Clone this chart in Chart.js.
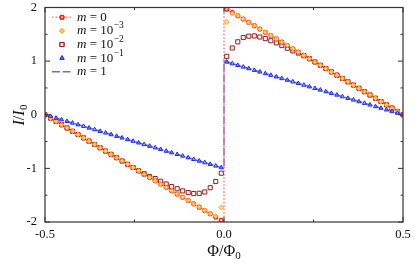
<!DOCTYPE html>
<html><head><meta charset="utf-8">
<script src="https://cdn.jsdelivr.net/npm/chart.js@4/dist/chart.umd.min.js"></script>
<style>html,body{margin:0;padding:0;background:#fff}canvas{display:block}</style>
</head><body>
<canvas id="c" width="415" height="265"></canvas>
<script>
// Flux grid (Φ/Φ0)
const phi = [-0.5,-0.4846,-0.4692,-0.4538,-0.4385,-0.4231,-0.4077,-0.3923,-0.3769,-0.3615,-0.3462,-0.3308,-0.3154,-0.3,-0.2846,-0.2692,-0.2538,-0.2385,-0.2231,-0.2077,-0.1923,-0.1769,-0.1615,-0.1462,-0.1308,-0.1154,-0.1,-0.0846,-0.0692,-0.0538,-0.0385,-0.0231,-0.0077,
 0.0077,0.0231,0.0385,0.0538,0.0692,0.0846,0.1,0.1154,0.1308,0.1462,0.1615,0.1769,0.1923,0.2077,0.2231,0.2385,0.2538,0.2692,0.2846,0.3,0.3154,0.3308,0.3462,0.3615,0.3769,0.3923,0.4077,0.4231,0.4385,0.4538,0.4692,0.4846,0.5];
// m = 0 (markers)
const m0 = [0,-0.062,-0.123,-0.185,-0.246,-0.308,-0.369,-0.431,-0.492,-0.554,-0.615,-0.677,-0.738,-0.8,-0.862,-0.923,-0.985,-1.046,-1.108,-1.169,-1.231,-1.292,-1.354,-1.415,-1.477,-1.538,-1.6,-1.662,-1.723,-1.785,-1.846,-1.908,-1.969,
 1.969,1.908,1.846,1.785,1.723,1.662,1.6,1.538,1.477,1.415,1.354,1.292,1.231,1.169,1.108,1.046,0.985,0.923,0.862,0.8,0.738,0.677,0.615,0.554,0.492,0.431,0.369,0.308,0.246,0.185,0.123,0.062,0];
// m = 1e-3
const m3 = [0,-0.062,-0.123,-0.185,-0.246,-0.308,-0.369,-0.431,-0.492,-0.554,-0.615,-0.677,-0.738,-0.8,-0.862,-0.923,-0.985,-1.046,-1.108,-1.169,-1.231,-1.292,-1.354,-1.415,-1.477,-1.538,-1.6,-1.662,-1.723,-1.785,-1.846,-1.89,-1.73,
 1.73,1.89,1.846,1.785,1.723,1.662,1.6,1.538,1.477,1.415,1.354,1.292,1.231,1.169,1.108,1.046,0.985,0.923,0.862,0.8,0.738,0.677,0.615,0.554,0.492,0.431,0.369,0.308,0.246,0.185,0.123,0.062,0];
// m = 1e-2
const m2 = [0,-0.062,-0.123,-0.185,-0.246,-0.308,-0.369,-0.431,-0.492,-0.554,-0.615,-0.677,-0.738,-0.8,-0.862,-0.923,-0.985,-1.045,-1.10,-1.15,-1.19,-1.24,-1.29,-1.34,-1.38,-1.42,-1.45,-1.47,-1.465,-1.44,-1.36,-1.245,-1.09,
 1.09,1.245,1.36,1.44,1.465,1.47,1.45,1.42,1.38,1.34,1.29,1.24,1.19,1.15,1.10,1.045,0.985,0.923,0.862,0.8,0.738,0.677,0.615,0.554,0.492,0.431,0.369,0.308,0.246,0.185,0.123,0.062,0];
// m = 1e-1
const m1 = [0,-0.031,-0.062,-0.092,-0.123,-0.154,-0.185,-0.215,-0.246,-0.277,-0.308,-0.338,-0.369,-0.4,-0.431,-0.462,-0.492,-0.523,-0.554,-0.585,-0.615,-0.646,-0.677,-0.708,-0.738,-0.769,-0.8,-0.831,-0.862,-0.892,-0.923,-0.954,-0.985,
 0.985,0.954,0.923,0.892,0.862,0.831,0.8,0.769,0.738,0.708,0.677,0.646,0.615,0.585,0.554,0.523,0.492,0.462,0.431,0.4,0.369,0.338,0.308,0.277,0.246,0.215,0.185,0.154,0.123,0.092,0.062,0.031,0];
// continuous curves
const sawX = [-0.5, 0, 0, 0.5];
const sawY = [0, -2, 2, 0];
const unitX = [-0.5, 0, 0, 0.5];
const unitY = [0, -1, 1, 0];
// ticks
const xTickLabels = [-0.5, 0.0, 0.5];
const xMinorTicks = [-0.25, 0.25];
const yTickLabels = [-2, -1, 0, 1, 2];
const yMinorTicks = [-1.5, -0.5, 0.5, 1.5];
// legend
const legendBase = ['0', '10', '10', '10', '1'];
const legendExp = ['', '\u22123', '\u22122', '\u22121', ''];

const pts = (xs, ys) => xs.map((x, i) => ({x, y: ys[i]}));

const sM1 = {label:'m=1', data: pts(unitX, unitY), showLine:true, borderColor:'#7272c2', borderWidth:1.6, borderDash:[8,2.5], pointRadius:0, order:10};
const sM0line = {label:'m=0 line', data: pts(sawX, sawY), showLine:true, borderColor:'#ff8080', borderWidth:1.6, borderDash:[1.5,2], pointRadius:0, order:9};
const sM2 = {label:'m=1e-2', data: pts(phi, m2), showLine:false, pointStyle:'rect', pointRadius:2.9, pointBorderWidth:1, borderColor:'#8e2222', backgroundColor:'rgba(255,235,230,0.5)', order:8};
const sM0 = {label:'m=0', data: pts(phi, m0), showLine:false, pointStyle:'circle', pointRadius:2.0, pointBorderWidth:1.1, borderColor:'#f01a1a', backgroundColor:'rgba(255,140,120,0.6)', order:7};
const sM3 = {label:'m=1e-3', data: pts(phi, m3), showLine:false, pointStyle:'rectRot', pointRadius:2.4, pointBorderWidth:1, borderColor:'#ffa21e', backgroundColor:'rgba(255,215,110,0.8)', order:6};
const sM1e1 = {label:'m=1e-1', data: pts(phi, m1), showLine:false, pointStyle:'triangle', pointRadius:2.4, pointBorderWidth:1, borderColor:'#1a2ef0', backgroundColor:'rgba(120,130,255,0.6)', order:5};

const legendEntries = [
  {line: sM0line, marker: sM0},
  {marker: sM3},
  {marker: sM2},
  {marker: sM1e1},
  {line: sM1}
];

const SERIF = '"Liberation Serif", "DejaVu Serif", serif';

function drawMarker(ctx, ds, x, y) {
  ctx.save();
  ctx.strokeStyle = ds.borderColor;
  ctx.fillStyle = ds.backgroundColor;
  ctx.lineWidth = ds.pointBorderWidth;
  Chart.helpers.drawPoint(ctx, {pointStyle: ds.pointStyle, radius: ds.pointRadius, borderWidth: ds.pointBorderWidth, rotation: 0}, x, y);
  ctx.fill();
  if (ds.pointBorderWidth > 0) ctx.stroke();
  ctx.restore();
}

const framePlugin = {
  id: 'frame',
  afterDraw(chart) {
    const {ctx, chartArea: a, scales: {x, y}} = chart;
    ctx.save();
    ctx.strokeStyle = '#333';
    ctx.lineWidth = 1.2;
    ctx.strokeRect(a.left, a.top, a.right - a.left, a.bottom - a.top);
    ctx.lineWidth = 1;
    ctx.beginPath();
    const tx = (v, len) => { const p = x.getPixelForValue(v); ctx.moveTo(p, a.bottom); ctx.lineTo(p, a.bottom - len); ctx.moveTo(p, a.top); ctx.lineTo(p, a.top + len); };
    const ty = (v, len) => { const p = y.getPixelForValue(v); ctx.moveTo(a.left, p); ctx.lineTo(a.left + len, p); ctx.moveTo(a.right, p); ctx.lineTo(a.right - len, p); };
    xTickLabels.forEach(v => tx(v, 5));
    xMinorTicks.forEach(v => tx(v, 2.5));
    yTickLabels.forEach(v => ty(v, 5));
    yMinorTicks.forEach(v => ty(v, 2.5));
    ctx.stroke();

    // legend
    const lx = 52, lx2 = 72, mx = 62, tx0 = 77;
    legendEntries.forEach((e, i) => {
      const yy = 17.3 + i * 13.6;
      if (e.line) {
        ctx.save();
        ctx.strokeStyle = e.line.borderColor;
        ctx.lineWidth = e.line.borderWidth;
        ctx.setLineDash(e.line.borderDash);
        ctx.beginPath(); ctx.moveTo(lx, yy); ctx.lineTo(lx2, yy); ctx.stroke();
        ctx.restore();
      }
      if (e.marker) drawMarker(ctx, e.marker, mx, yy);
      ctx.fillStyle = '#111';
      ctx.textBaseline = 'middle';
      ctx.textAlign = 'left';
      let cx = tx0;
      ctx.font = 'italic 13px ' + SERIF;
      ctx.fillText('m', cx, yy); cx += ctx.measureText('m').width;
      ctx.font = '13px ' + SERIF;
      const mid = ' = ' + legendBase[i];
      ctx.fillText(mid, cx, yy); cx += ctx.measureText(mid).width;
      if (legendExp[i]) {
        ctx.font = '9.5px ' + SERIF;
        ctx.fillText(legendExp[i], cx + 0.5, yy - 5);
      }
    });

    // axis titles
    ctx.fillStyle = '#111';
    ctx.textBaseline = 'alphabetic';
    ctx.textAlign = 'left';
    ctx.font = '16px ' + SERIF;
    const xt = '\u03A6/\u03A6';
    const w1 = ctx.measureText(xt).width;
    ctx.font = '11px ' + SERIF;
    const w2 = ctx.measureText('0').width;
    const cxm = (a.left + a.right) / 2;
    const sx = cxm - (w1 + w2) / 2;
    ctx.font = '16px ' + SERIF;
    ctx.fillText(xt, sx, 256);
    ctx.font = '11px ' + SERIF;
    ctx.fillText('0', sx + w1, 259);

    ctx.save();
    ctx.translate(24, (a.top + a.bottom) / 2);
    ctx.rotate(-Math.PI / 2);
    ctx.font = 'italic 16px ' + SERIF;
    const wi = ctx.measureText('I').width;
    ctx.font = '16px ' + SERIF;
    const ws = ctx.measureText('/').width;
    ctx.font = '11px ' + SERIF;
    const w0 = ctx.measureText('0').width;
    let px = -(wi * 2 + ws + w0 + 1) / 2;
    ctx.font = 'italic 16px ' + SERIF;
    ctx.fillText('I', px, 0); px += wi;
    ctx.font = '16px ' + SERIF;
    ctx.fillText('/', px, 0); px += ws;
    ctx.font = 'italic 16px ' + SERIF;
    ctx.fillText('I', px, 0); px += wi + 0.5;
    ctx.font = '11px ' + SERIF;
    ctx.fillText('0', px, 3);
    ctx.restore();
    ctx.restore();
  }
};

new Chart(document.getElementById('c'), {
  type: 'scatter',
  data: { datasets: [sM1, sM0line, sM2, sM0, sM3, sM1e1] },
  options: {
    responsive: false,
    animation: false,
    devicePixelRatio: 1,
    layout: { padding: { left: 0, right: 12, top: 7.5, bottom: 0 } },
    plugins: { legend: { display: false }, tooltip: { enabled: false } },
    scales: {
      x: {
        type: 'linear', min: -0.5, max: 0.5,
        grid: { display: false, drawTicks: false },
        border: { display: false },
        afterBuildTicks: s => { s.ticks = xTickLabels.map(v => ({ value: v })); },
        afterFit: s => { s.height = 43; s.paddingLeft = 0; s.paddingRight = 0; },
        ticks: { padding: 5, color: '#111', font: { family: SERIF, size: 12.5 }, callback: v => v.toFixed(1) , maxRotation: 0 }
      },
      y: {
        type: 'linear', min: -2, max: 2,
        grid: { display: false, drawTicks: false },
        border: { display: false },
        afterBuildTicks: s => { s.ticks = yTickLabels.map(v => ({ value: v })); },
        afterFit: s => { s.width = 45; s.paddingTop = 0; s.paddingBottom = 0; },
        ticks: { padding: 8, color: '#111', font: { family: SERIF, size: 12.5 }, callback: v => String(v) }
      }
    }
  },
  plugins: [framePlugin]
});
</script>
</body></html>
